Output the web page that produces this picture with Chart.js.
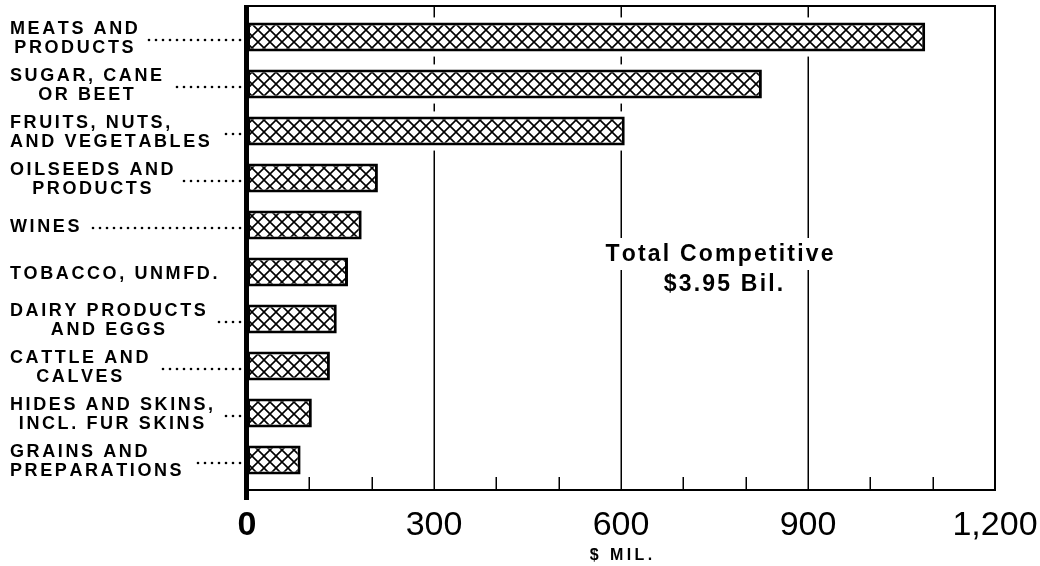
<!DOCTYPE html>
<html><head><meta charset="utf-8">
<script src="https://cdn.jsdelivr.net/npm/chart.js@4/dist/chart.umd.min.js"></script>
<style>html,body{margin:0;padding:0;background:#fff;overflow:hidden}#wrap{width:1040px;height:566px;position:relative}</style>
</head><body><div id="wrap"><canvas id="c" width="1040" height="566"></canvas></div>
<script>
// ---- data ----
const categories = [
  ["MEATS AND", "PRODUCTS"],
  ["SUGAR, CANE", "OR BEET"],
  ["FRUITS, NUTS,", "AND VEGETABLES"],
  ["OILSEEDS AND", "PRODUCTS"],
  ["WINES"],
  ["TOBACCO, UNMFD."],
  ["DAIRY PRODUCTS", "AND EGGS"],
  ["CATTLE AND", "CALVES"],
  ["HIDES AND SKINS,", "INCL. FUR SKINS"],
  ["GRAINS AND", "PREPARATIONS"]
];
const values = [1088, 826, 606, 210, 184, 162, 144, 133, 104, 86];
const majorTicks = [0, 300, 600, 900, 1200];
const minorTicks = [100, 200, 400, 500, 700, 800, 1000, 1100];
const hasLeader = [true, true, true, true, true, false, true, true, true, true];
const axisTitle = "$ MIL.";
const noteLines = ["Total Competitive", "$3.95 Bil."];
const noteValue = 758;

// ---- style ----
const labelAlign = ['center','center','left','center','left','left','center','center','center','left'];
const INK = '#000';

const canvas = document.getElementById('c');
const ctx = canvas.getContext('2d');

function makeHatch() {
  const s = 12, c = document.createElement('canvas');
  c.width = s; c.height = s;
  const g = c.getContext('2d');
  g.fillStyle = '#fff'; g.fillRect(0, 0, s, s);
  g.strokeStyle = INK; g.lineWidth = 1.6;
  g.beginPath();
  g.moveTo(-2, -2); g.lineTo(s + 2, s + 2);
  g.moveTo(s + 2, -2); g.lineTo(-2, s + 2);
  g.stroke();
  return ctx.createPattern(c, 'repeat');
}

function spacedWidth(c, text, sp) {
  let w = 0;
  for (const ch of text) w += c.measureText(ch).width + sp;
  return w - sp;
}
function drawSpaced(c, text, x, y, sp, align) {
  const w = spacedWidth(c, text, sp);
  let cx = align === 'center' ? x - w / 2 : (align === 'right' ? x - w : x);
  c.textAlign = 'left';
  for (const ch of text) {
    c.fillText(ch, cx, y);
    cx += c.measureText(ch).width + sp;
  }
  return w;
}

const deco = {
  id: 'deco',
  beforeDatasetsDraw(chart) {
    const c = chart.ctx, xs = chart.scales.x, a = chart.chartArea;
    const left = xs.getPixelForValue(0), right = xs.getPixelForValue(1200);
    const top = a.top - 7.5, axisY = a.bottom + 6.5;
    c.save();
    c.strokeStyle = INK;
    // gridlines
    c.lineWidth = 1.5;
    majorTicks.filter(v => v > 0 && v < 1200).forEach(v => {
      const x = Math.round(xs.getPixelForValue(v)) + 0.25;
      c.beginPath(); c.moveTo(x, top); c.lineTo(x, axisY); c.stroke();
    });
    // minor ticks
    minorTicks.forEach(v => {
      const x = Math.round(xs.getPixelForValue(v)) + 0.25;
      c.beginPath(); c.moveTo(x, axisY - 13); c.lineTo(x, axisY); c.stroke();
    });
    // frame
    c.lineWidth = 2;
    c.beginPath(); c.moveTo(left, top); c.lineTo(right, top); c.lineTo(right, axisY); c.stroke();
    c.lineWidth = 2.2;
    c.beginPath(); c.moveTo(left, axisY); c.lineTo(right + 1, axisY); c.stroke();
    // white halos around bars
    c.fillStyle = '#fff';
    chart.getDatasetMeta(0).data.forEach(bar => {
      const p = bar.getProps(['x', 'y', 'base', 'height'], true);
      c.fillRect(p.base, p.y - p.height / 2 - 5, p.x - p.base + 2, p.height + 10);
    });
    c.restore();
  },
  afterDatasetsDraw(chart) {
    const c = chart.ctx, xs = chart.scales.x, ys = chart.scales.y, a = chart.chartArea;
    const left = xs.getPixelForValue(0);
    const top = a.top - 7.5, axisY = a.bottom + 6.5;
    c.save();
    // thick zero axis
    c.strokeStyle = INK; c.lineWidth = 5;
    c.beginPath(); c.moveTo(left - 0.5, top - 1); c.lineTo(left - 0.5, axisY + 10); c.stroke();

    // note
    c.fillStyle = INK;
    c.font = 'bold 23px "Liberation Sans", Arial, sans-serif';
    c.textBaseline = 'alphabetic';
    const nx = xs.getPixelForValue(noteValue);
    const ny = ys.getPixelForValue(4) + 36;
    const w1 = spacedWidth(c, noteLines[0], 2.2);
    c.fillStyle = '#fff';
    c.fillRect(nx - w1 / 2 - 12, ny - 23, w1 + 24, 32);
    c.fillStyle = INK;
    drawSpaced(c, noteLines[0], nx, ny, 2.2, 'center');
    drawSpaced(c, noteLines[1], nx + 4, ny + 30, 2.2, 'center');

    // category labels + leaders
    c.font = 'bold 18px "Liberation Sans", Arial, sans-serif';
    const sp = 2.6, lh = 19, capH = 13, x0 = 10, dotEnd = 240;
    categories.forEach((lines, i) => {
      const yc = ys.getPixelForValue(i);
      const widths = lines.map(t => spacedWidth(c, t, sp));
      const bw = Math.max(...widths);
      const n = lines.length;
      lines.forEach((t, k) => {
        const by = yc + (k - (n - 1) / 2) * lh + capH / 2;
        const lx = labelAlign[i] === 'center' ? x0 + (bw - widths[k]) / 2 : x0;
        drawSpaced(c, t, lx, by, sp, 'left');
      });
      if (hasLeader[i]) {
        const start = x0 + bw + 10;
        const dy = yc + 3;
        for (let x = dotEnd; x >= start; x -= 7) {
          c.beginPath(); c.arc(x, dy, 1.3, 0, Math.PI * 2); c.fill();
        }
      }
    });

    // axis title
    c.font = 'bold 16px "Liberation Sans", Arial, sans-serif';
    drawSpaced(c, axisTitle, (xs.getPixelForValue(0) + xs.getPixelForValue(1200)) / 2, 560, 3.4, 'center');
    c.restore();
  }
};

new Chart(ctx, {
  type: 'bar',
  data: {
    labels: categories,
    datasets: [{
      data: values,
      backgroundColor: makeHatch(),
      borderColor: INK,
      borderWidth: 3,
      borderSkipped: false,
      barPercentage: 0.62,
      categoryPercentage: 1
    }]
  },
  options: {
    indexAxis: 'y',
    responsive: false,
    animation: false,
    devicePixelRatio: 1,
    layout: { padding: { left: 247, right: 45, top: 13.5, bottom: 0 } },
    plugins: { legend: { display: false }, tooltip: { enabled: false } },
    scales: {
      x: {
        type: 'linear', min: 0, max: 1200, position: 'bottom',
        afterFit: s => { s.height = 82.5; s.paddingLeft = 0; s.paddingRight = 0; },
        afterBuildTicks: s => { s.ticks = majorTicks.map(v => ({ value: v })); },
        grid: { display: false }, border: { display: false },
        ticks: {
          padding: 14, color: INK, maxRotation: 0, autoSkip: false,
          font: c => ({ family: '"Liberation Sans", Arial, sans-serif', size: 34,
                        weight: (c.tick && c.tick.value === 0) ? 'bold' : 'normal' }),
          callback: v => Number(v).toLocaleString('en-US')
        }
      },
      y: { display: false }
    }
  },
  plugins: [deco]
});
</script>
</body></html>
